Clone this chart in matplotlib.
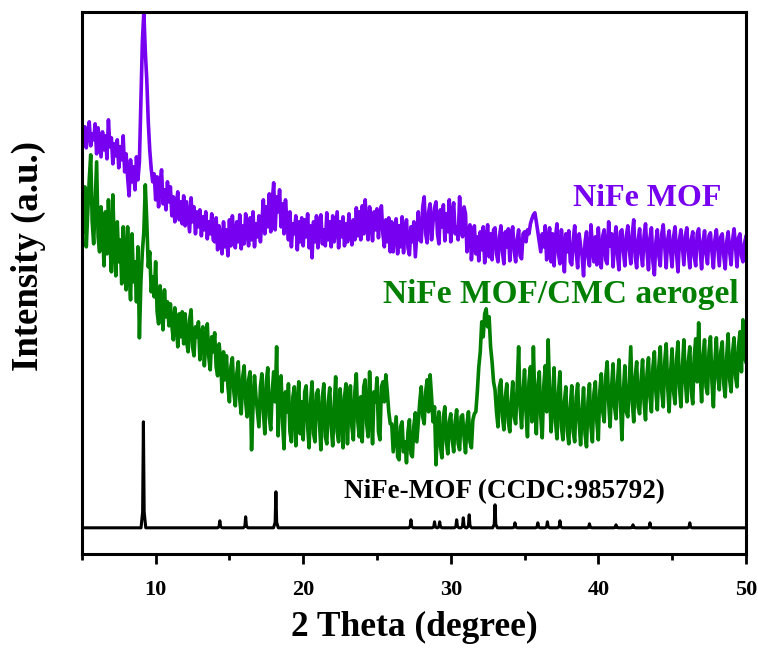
'''
XRD patterns of NiFe MOF, NiFe MOF/CMC aerogel and simulated NiFe-MOF
'''
import numpy as np
import matplotlib
matplotlib.use('Agg')
import matplotlib.pyplot as plt
from matplotlib.ticker import MultipleLocator

plt.rcParams['font.family'] = ['Liberation Serif', 'DejaVu Serif']
plt.rcParams['font.weight'] = 'bold'

# 2 theta grid, 0.1 degree step from 5 to 50 (451 points)
two_theta = np.round(np.arange(5.0, 50.001, 0.1), 1)

# NiFe MOF (a.u., stacked), one row per degree
mof = [
    432, 410, 425, 404, 420, 430, 406, 418, 412, 428,
    398, 424, 410, 395, 420, 402, 416, 393, 432, 405,
    414, 388, 408, 396, 412, 384, 405, 392, 416, 380,
    398, 375, 356, 392, 370, 385, 362, 395, 372, 390,
    450, 510, 540, 500, 472, 430, 402, 383, 370, 378,
    352, 375, 345, 368, 382, 348, 362, 342, 370, 350,
    365, 336, 355, 330, 348, 360, 332, 350, 328, 356,
    326, 350, 335, 320, 354, 330, 345, 318, 340, 325,
    342, 316, 335, 322, 340, 313, 330, 318, 338, 312,
    310, 334, 302, 326, 315, 298, 330, 305, 322, 296,
    332, 306, 336, 315, 304, 330, 310, 337, 303, 326,
    308, 338, 320, 306, 334, 312, 340, 305, 328, 315,
    336, 310, 330, 352, 318, 345, 325, 358, 320, 350,
    369, 322, 355, 340, 362, 325, 348, 318, 352, 330,
    312, 340, 305, 328, 318, 336, 302, 330, 310, 334,
    306, 332, 315, 338, 304, 326, 294, 330, 310, 336,
    304, 328, 337, 308, 322, 306, 339, 312, 330, 305,
    336, 310, 325, 340, 304, 330, 315, 335, 306, 328,
    310, 338, 320, 307, 332, 312, 344, 316, 340, 312,
    346, 318, 352, 325, 312, 345, 330, 311, 340, 322,
    343, 314, 335, 346, 318, 305, 332, 310, 334, 300,
    330, 300, 320, 333, 298, 326, 305, 335, 299, 322,
    332, 304, 297, 325, 310, 330, 295, 318, 340, 312,
    310, 345, 355, 318, 309, 340, 348, 312, 330, 344,
    350, 318, 308, 342, 325, 347, 311, 338, 320, 352,
    310, 340, 349, 318, 325, 312, 355, 322, 315, 345,
    338, 300, 318, 327, 292, 310, 326, 298, 315, 291,
    320, 302, 325, 289, 312, 327, 295, 318, 292, 322,
    324, 298, 290, 315, 326, 300, 288, 320, 305, 323,
    291, 318, 325, 300, 290, 312, 322, 296, 293, 318,
    320, 310, 322, 318, 328, 333, 337, 339, 330, 320,
    310, 300, 318, 305, 326, 292, 312, 324, 290, 318,
    286, 315, 328, 298, 288, 322, 305, 280, 318, 300,
    321, 290, 287, 312, 326, 300, 284, 318, 306, 296,
    276, 310, 320, 295, 286, 327, 305, 290, 315, 287,
    324, 298, 284, 316, 322, 292, 288, 330, 306, 318,
    285, 312, 325, 296, 282, 320, 322, 300, 286, 316,
    326, 302, 288, 318, 332, 295, 284, 312, 323, 298,
    286, 316, 328, 300, 282, 314, 324, 290, 277, 310,
    322, 296, 286, 318, 327, 305, 284, 312, 321, 300,
    285, 315, 325, 298, 280, 312, 322, 304, 287, 316,
    324, 300, 284, 312, 320, 295, 286, 318, 323, 302,
    283, 310, 321, 298, 288, 316, 319, 300, 284, 312,
    322, 304, 286, 315, 318, 296, 283, 310, 320, 300,
    287, 312, 323, 305, 285, 314, 318, 296, 290, 308,
    315,
]

# NiFe MOF/CMC aerogel (a.u., stacked), one row per degree
aerogel = [
    355, 320, 365, 305, 340, 372, 397, 330, 308, 350,
    390, 315, 300, 345, 325, 286, 340, 298, 352, 310,
    280, 357, 305, 276, 330, 290, 312, 268, 325, 295,
    262, 325, 280, 252, 318, 270, 290, 250, 305, 214,
    270, 300, 320, 367, 330, 285, 300, 260, 275, 255,
    290, 240, 228, 266, 245, 222, 262, 235, 250, 226,
    248, 226, 212, 244, 230, 205, 238, 215, 240, 208,
    238, 210, 200, 232, 242, 205, 196, 225, 215, 230,
    192, 218, 225, 186, 210, 228, 195, 182, 215, 200,
    219, 185, 176, 208, 192, 160, 200, 172, 196, 165,
    150, 185, 194, 160, 146, 178, 190, 152, 138, 175,
    186, 150, 135, 172, 180, 102, 145, 176, 155, 140,
    125, 165, 178, 140, 118, 170, 184, 135, 122, 160,
    180, 150, 205, 116, 165, 176, 130, 103, 160, 140,
    168, 120, 110, 155, 165, 106, 145, 170, 118, 150,
    112, 160, 166, 125, 104, 150, 170, 118, 110, 158,
    162, 130, 102, 155, 168, 115, 108, 150, 164, 125,
    106, 145, 175, 120, 110, 163, 140, 104, 155, 168,
    108, 150, 166, 125, 112, 160, 178, 130, 115, 155,
    110, 165, 172, 128, 115, 180, 140, 108, 160, 150,
    174, 120, 112, 165, 170, 150, 177, 160, 140, 128,
    128, 100, 118, 135, 95, 92, 125, 130, 100, 110,
    89, 120, 132, 98, 95, 126, 139, 110, 130, 150,
    165, 135, 128, 160, 172, 140, 177, 155, 130, 145,
    87, 125, 140, 105, 94, 135, 145, 110, 98, 130,
    138, 112, 100, 130, 142, 108, 102, 135, 137, 115,
    99, 128, 140, 110, 104, 132, 138, 140, 160, 185,
    200, 230, 215, 238, 243, 225, 235, 205, 190, 170,
    162, 140, 125, 165, 172, 135, 122, 155, 168, 130,
    120, 150, 170, 135, 128, 165, 205, 145, 124, 160,
    182, 140, 115, 170, 185, 130, 205, 150, 118, 165,
    180, 135, 114, 165, 186, 140, 212, 160, 120, 150,
    184, 130, 113, 160, 180, 125, 112, 150, 165, 120,
    108, 145, 166, 120, 110, 155, 168, 130, 107, 140,
    164, 118, 105, 150, 168, 125, 110, 158, 170, 130,
    112, 160, 178, 140, 130, 175, 190, 150, 125, 165,
    188, 145, 133, 170, 192, 150, 112, 160, 186, 140,
    135, 170, 205, 150, 130, 175, 190, 145, 138, 172,
    192, 150, 132, 178, 194, 155, 140, 185, 200, 160,
    142, 185, 205, 160, 145, 190, 208, 165, 140, 180,
    203, 160, 148, 192, 210, 165, 145, 185, 212, 170,
    150, 190, 205, 160, 148, 195, 213, 170, 229, 180,
    150, 195, 212, 165, 158, 200, 215, 170, 145, 190,
    214, 175, 162, 200, 210, 168, 155, 195, 218, 172,
    160, 200, 214, 175, 165, 205, 220, 180, 232, 195,
    190,
]

# simulated NiFe-MOF (CCDC:985792): peak positions and heights
sim_base = 24
sim_pos = [9.17, 14.35, 16.1, 18.15, 27.3, 28.9, 29.25, 30.4, 30.85, 31.25,
           33.0, 34.35, 35.9, 36.55, 37.4, 39.4, 41.2, 42.35, 43.5, 46.2]
sim_height = [130, 31, 35, 60, 32, 30, 30, 32, 34, 37,
              47, 29, 29, 30, 31, 28, 27, 27, 29, 29]

assert len(mof) == len(two_theta) == len(aerogel)


def stick_profile(pos, height, base, half=0.16):
    xs, ys = [5.0], [base]
    for p, h in zip(pos, height):
        dh = h - base
        xs += [p - half, p - half / 3, p, p + half / 3, p + half]
        ys += [base, base + 0.15 * dh, h, base + 0.15 * dh, base]
    xs.append(50.0)
    ys.append(base)
    return np.array(xs), np.array(ys)


PURPLE = '#7800F0'
GREEN = '#007F00'

fig = plt.figure(figsize=(7.58, 6.5), dpi=100)
ax = fig.add_axes([0.108, 0.148, 0.876, 0.833])

ax.plot(two_theta, mof, color=PURPLE, lw=2.6)
ax.plot(two_theta, aerogel, color=GREEN, lw=2.6)
sx, sy = stick_profile(sim_pos, sim_height, sim_base)
ax.plot(sx, sy, color='black', lw=2.2)

ax.text(0.852, 0.656, 'NiFe MOF', color=PURPLE, fontsize=23,
        fontweight='bold', ha='center', va='center', transform=ax.transAxes)
ax.text(0.722, 0.478, 'NiFe MOF/CMC aerogel', color=GREEN, fontsize=24,
        fontweight='bold', ha='center', va='center', transform=ax.transAxes)
ax.text(0.637, 0.115, 'NiFe-MOF (CCDC:985792)', color='black', fontsize=19.5,
        fontweight='bold', ha='center', va='center', transform=ax.transAxes)

ax.set_xlim(5, 50)
ax.set_ylim(-2, 539.5)
ax.xaxis.set_major_locator(MultipleLocator(10))
ax.xaxis.set_minor_locator(MultipleLocator(5))
ax.set_yticks([])
ax.tick_params(axis='x', which='major', direction='out', length=7, width=2,
               labelsize=16, pad=12)
ax.tick_params(axis='x', which='minor', direction='out', length=4, width=2)
for lab in ax.get_xticklabels():
    lab.set_fontweight('bold')
for sp in ax.spines.values():
    sp.set_linewidth(2.2)

ax.set_xlabel('2 Theta (degree)', fontsize=25.5, fontweight='bold', labelpad=8)
ax.set_ylabel('Intensity (a.u.)', fontsize=26.5, fontweight='bold')
ax.yaxis.set_label_coords(-0.054, 0.55)

fig.savefig('out.png', dpi=100)
